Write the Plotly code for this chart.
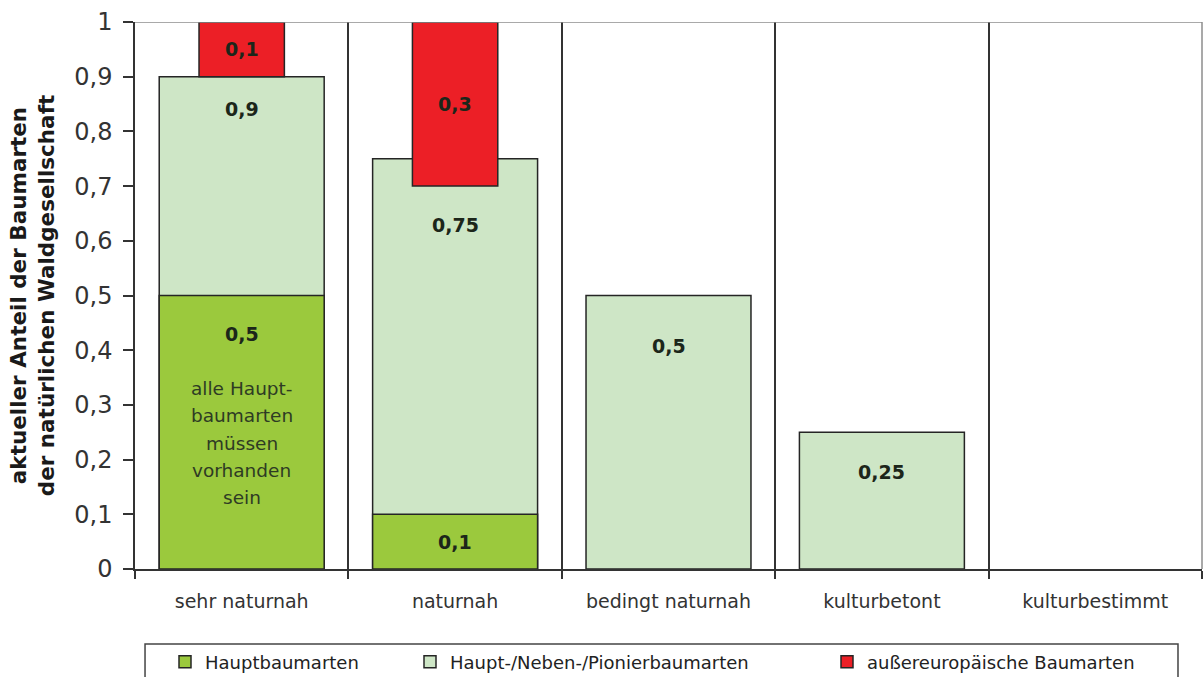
import plotly.graph_objects as go

# --- data -----------------------------------------------------------------
categories = ["sehr naturnah", "naturnah", "bedingt naturnah", "kulturbetont", "kulturbestimmt"]
hauptbaumarten = [0.5, 0.1, None, None, None]
haupt_neben_pionier = [0.9, 0.75, 0.5, 0.25, None]
aussereuropaeisch = [0.1, 0.3, None, None, None]
y_ticks = [0, 0.1, 0.2, 0.3, 0.4, 0.5, 0.6, 0.7, 0.8, 0.9, 1]

note_lines = ["alle Haupt-", "baumarten", "müssen", "vorhanden", "sein"]

# --- styling ----------------------------------------------------------------
FONT = "DejaVu Sans"
C_HAUPT = "#9bc93d"
C_HNP = "#cee6c6"
C_AUSSER = "#ec1f26"
C_EDGE = "#252525"
C_LABEL = "#1c261a"
W, H = 1204, 677

red_base = [None if v is None else 1 - v for v in aussereuropaeisch]


def fmt(v):
    return f"{v:g}".replace(".", ",")


fig = go.Figure()

fig.add_trace(go.Bar(
    x=categories, y=haupt_neben_pionier, width=0.773,
    name="Haupt-/Neben-/Pionierbaumarten", legend="legend2",
    marker=dict(color=C_HNP, line=dict(color=C_EDGE, width=1.5)),
    hoverinfo="skip",
))
fig.add_trace(go.Bar(
    x=categories, y=hauptbaumarten, width=0.773,
    name="Hauptbaumarten", legend="legend",
    marker=dict(color=C_HAUPT, line=dict(color=C_EDGE, width=1.5)),
    hoverinfo="skip",
))
fig.add_trace(go.Bar(
    x=categories, y=aussereuropaeisch, base=red_base, width=0.4,
    name="außereuropäische Baumarten", legend="legend3",
    marker=dict(color=C_AUSSER, line=dict(color=C_EDGE, width=1.5)),
    hoverinfo="skip",
))

# --- value labels -----------------------------------------------------------
annotations = []
label_font = dict(family=FONT, size=19, color=C_LABEL, weight="bold")

# red bars: centred in the bar
for cat, v, b in zip(categories, aussereuropaeisch, red_base):
    if v is not None:
        annotations.append(dict(x=cat, y=b + v / 2, text=fmt(v), showarrow=False,
                                font=label_font))

# light green bars: a little below the visible top edge
hnp_drop = [32, 39, 50, 40, 40]
for i, (cat, v) in enumerate(zip(categories, haupt_neben_pionier)):
    if v is None:
        continue
    top = v
    if red_base[i] is not None:
        top = min(top, red_base[i])
    annotations.append(dict(x=cat, y=top, yshift=-hnp_drop[i], text=fmt(v),
                            showarrow=False, font=label_font))

# dark green bars
for i, (cat, v) in enumerate(zip(categories, hauptbaumarten)):
    if v is None:
        continue
    if v < 0.2:
        annotations.append(dict(x=cat, y=v / 2, text=fmt(v), showarrow=False,
                                font=label_font))
    else:
        annotations.append(dict(x=cat, y=v, yshift=-38, text=fmt(v),
                                showarrow=False, font=label_font))
        for k, line in enumerate(note_lines):
            annotations.append(dict(x=cat, y=v, yshift=-93 - 27.3 * k, text=line,
                                    showarrow=False,
                                    font=dict(family=FONT, size=18.5, color="#2e3b24")))

# --- frame pieces -------------------------------------------------------------
shapes = [
    # top and right border of the plot area
    dict(type="line", xref="paper", yref="y", x0=0, x1=1, y0=1, y1=1,
         line=dict(color="#8c8c8c", width=1.5), layer="above"),
    dict(type="line", xref="paper", yref="y", x0=1, x1=1, y0=0, y1=1,
         line=dict(color="#8c8c8c", width=1.5), layer="above"),
    # box around the legend row
    dict(type="rect", xref="paper", yref="paper", x0=0.0094, x1=0.9775,
         y0=-0.137, y1=-0.24, line=dict(color="#444444", width=1.5),
         fillcolor="rgba(0,0,0,0)"),
]

legend_common = dict(orientation="h", yref="container", yanchor="middle",
                     y=(H - 662) / H, xref="container", xanchor="left",
                     bgcolor="rgba(0,0,0,0)", borderwidth=0,
                     font=dict(family=FONT, size=18, color="#222222"))

fig.update_layout(
    width=W, height=H,
    margin=dict(l=135, r=2, t=22, b=108, autoexpand=False),
    paper_bgcolor="white", plot_bgcolor="white",
    barmode="overlay",
    separators=", ",
    font=dict(family=FONT, color="#333333"),
    showlegend=True,
    legend=dict(legend_common, x=165 / W),
    legend2=dict(legend_common, x=410 / W),
    legend3=dict(legend_common, x=827 / W),
    annotations=annotations,
    shapes=shapes,
    xaxis=dict(
        type="category", range=[-0.5, 4.5], automargin=False,
        tickson="boundaries", showgrid=True, gridcolor="#333333", gridwidth=1.5,
        ticks="outside", ticklen=8, tickwidth=1.5, tickcolor="#333333",
        showline=True, linecolor="#333333", linewidth=1.5,
        tickfont=dict(family=FONT, size=19, color="#333333"),
        ticklabelstandoff=14, zeroline=False,
    ),
    yaxis=dict(
        range=[0, 1], tickvals=y_ticks, automargin=False,
        showgrid=False, zeroline=False,
        ticks="outside", ticklen=10, tickwidth=1.5, tickcolor="#333333",
        showline=True, linecolor="#333333", linewidth=1.5,
        tickfont=dict(family=FONT, size=24, color="#333333"),
        ticklabelstandoff=6,
        title=dict(text="aktueller Anteil der Baumarten<br>der natürlichen Waldgesellschaft",
                   font=dict(family=FONT, size=21.5, color="#1a1a1a", weight="bold"),
                   standoff=14),
    ),
)

fig.write_html("out.html")
